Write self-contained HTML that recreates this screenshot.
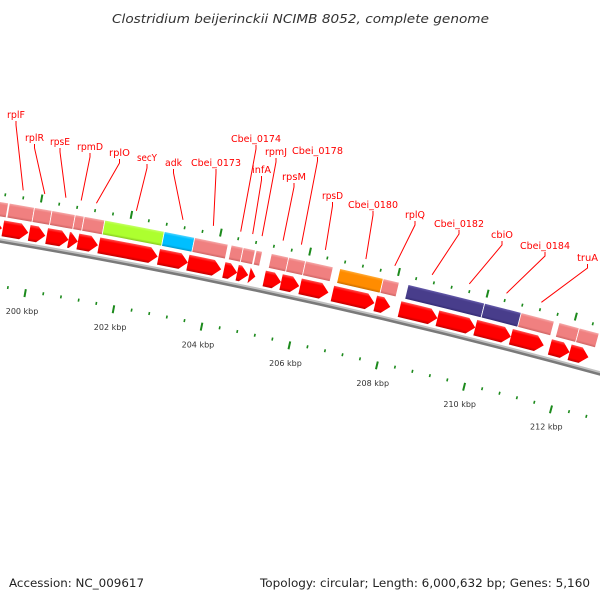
<!DOCTYPE html>
<html><head><meta charset="utf-8"><style>
html,body{margin:0;padding:0;background:#fff;}
svg{display:block;font-family:"DejaVu Sans","Liberation Sans",sans-serif;}
</style></head><body>
<svg id="map" width="600" height="600" viewBox="0 0 600 600" xmlns="http://www.w3.org/2000/svg">
<defs id="defs"></defs>
<rect width="600" height="600" fill="#fff"/>
<text x="112" y="23" textLength="377" lengthAdjust="spacingAndGlyphs" font-size="12.5" font-style="italic" fill="#333">Clostridium beijerinckii NCIMB 8052, complete genome</text>
<g id="ticks"></g><g id="backbone"></g><g id="features"></g><g id="labels"></g>
<text x="9" y="587" textLength="135" lengthAdjust="spacingAndGlyphs" font-size="11.5" fill="#222">Accession: NC_009617</text>
<text x="260" y="587" textLength="330" lengthAdjust="spacingAndGlyphs" font-size="11.5" fill="#222">Topology: circular; Length: 6,000,632 bp; Genes: 5,160</text>
</svg>
<script>
// ---- data (kbp) ----
const geneStarts = [198.75,199.27,199.86,200.25,200.74,200.95,201.42,202.76,203.42,204.23,204.53,204.80,205.14,205.52,205.95,206.68,207.65,208.20,209.06,209.92,210.73,211.62,212.07];
const geneEnds   = [199.25,199.84,200.22,200.74,200.95,201.40,202.74,203.42,204.17,204.53,204.78,204.94,205.52,205.93,206.59,207.63,207.99,209.06,209.92,210.73,211.48,212.07,212.50];
const boxStarts = [198.8,199.32,199.88,200.27,200.79,200.99,201.45,202.78,203.46,204.28,204.55,204.84,205.18,205.57,205.95,206.72,207.70,208.26,209.99,210.82,211.68,212.14];
const boxEnds   = [199.3,199.88,200.27,200.79,200.99,201.45,202.78,203.46,204.21,204.55,204.82,204.98,205.57,205.95,206.57,207.70,208.06,209.99,210.82,211.57,212.14,212.59];
const boxTypes  = ["pink","pink","pink","pink","pink","pink","green","blue","pink","pink","pink","pink","pink","pink","pink","orange","pink","purple","purple","pink","pink","pink"];
const labelNames = ["rplF","rplR","rpsE","rpmD","rplO","secY","adk","Cbei_0173","Cbei_0174","infA","rpmJ","rpsM","Cbei_0178","rpsD","Cbei_0180","rplQ","Cbei_0182","cbiO","Cbei_0184","truA"];
const labelKbp = [199.57,200.05,200.52,200.86,201.20,202.09,203.13,203.81,204.42,204.69,204.90,205.37,205.78,206.32,207.23,207.88,208.72,209.56,210.40,211.19];
const tickLabels = ["200 kbp","202 kbp","204 kbp","206 kbp","208 kbp","210 kbp","212 kbp"];
const tickLabelKbp = [200,202,204,206,208,210,212];
// label text layout (left x, baseline y, width)
const labelLayout = [[7,118,18],[25,141,19],[50,145,20],[77,150,26],[109,156,21],[137,161,20],[165,166,17],[191,166,50],[231,142,50],[252,173,19],[265,155,22],[282,180,24],[292,154,51],[322,199,21],[348,208,50],[405,218,20],[434,227,50],[491,238,22],[520,249,50],[577,261,21]];

const NS="http://www.w3.org/2000/svg";
const CX=-1014, CY=6241, R=6086;
function ang(k){return (-80.09+(k-200)*0.426)*Math.PI/180;}
function pt(k,r){const a=ang(k);return [CX+r*Math.cos(a),CY+r*Math.sin(a)];}
function f(p){return p[0].toFixed(2)+" "+p[1].toFixed(2);}
function mk(tag,attrs,parent){const e=document.createElementNS(NS,tag);for(const k in attrs)e.setAttribute(k,attrs[k]);parent.appendChild(e);return e;}
const defs=document.getElementById('defs');
const colors={red:["#ff5050","#ff0000","#c00000"],pink:["#f6b0b0","#f08080","#c86060"],green:["#c8ff70","#adff2f","#80c020"],blue:["#60d8ff","#00bfff","#0090c0"],orange:["#ffb040","#ff8c00","#c06800"],purple:["#6a60b0","#483d8b","#302870"]};
function grad(id,c,r1,r2){
  const g=mk('radialGradient',{id:id,gradientUnits:'userSpaceOnUse',cx:CX,cy:CY,r:R+r2,fx:CX,fy:CY},defs);
  const o=x=>((R+x)/(R+r2)).toFixed(6);
  mk('stop',{offset:o(r1),'stop-color':c[2]},g);
  mk('stop',{offset:o(r1+3),'stop-color':c[1]},g);
  mk('stop',{offset:o(r2-3),'stop-color':c[1]},g);
  mk('stop',{offset:o(r2),'stop-color':c[0]},g);
}
grad('g-red',colors.red,4,20);
for(const k of ["pink","green","blue","orange","purple"]) grad('g-'+k,colors[k],23,38);

// ticks
const tg=document.getElementById('ticks');
for(let i=0;i<=38;i++){
  const k=198.4+i*0.4, major=Math.abs((k/2)-Math.round(k/2))<0.01;
  for(const side of [1,-1]){
    const r1=R+side*44, r2=R+side*(major?52:47);
    const a=pt(k,r1), b=pt(k,r2);
    const l=mk('line',{x1:a[0],y1:a[1],x2:b[0],y2:b[1],stroke:'#1c8a1c','stroke-width':major?2:1.6},tg);
    
    
  }
}
tickLabels.forEach((t,i)=>{
  const p=pt(tickLabelKbp[i],R-66);
  const e=mk('text',{x:p[0],y:p[1]+3,'text-anchor':'middle','font-size':8,fill:'#333'},tg);
  e.textContent=t;
  
  
});
// backbone
const bb=document.getElementById('backbone');
function arc(r,k1,k2){const a=pt(k1,r),b=pt(k2,r);return "M"+f(a)+" A"+r+" "+r+" 0 0 1 "+f(b);}
const b1=mk('path',{d:arc(R+0.5,197,214),fill:'none',stroke:'#c0c0c0','stroke-width':2.5},bb);


const b2=mk('path',{d:arc(R-1.5,197,214),fill:'none',stroke:'#7a7a7a','stroke-width':2.5},bb);


// features
const fg=document.getElementById('features');
function band(k1,k2,r1,r2){return "M"+f(pt(k1,r2))+" A"+r2+" "+r2+" 0 0 1 "+f(pt(k2,r2))+" L"+f(pt(k2,r1))+" A"+r1+" "+r1+" 0 0 0 "+f(pt(k1,r1))+" Z";}
boxStarts.forEach((s,i)=>{
  const p=mk('path',{d:band(s,boxEnds[i],R+23,R+38),fill:'url(#g-'+boxTypes[i]+')',stroke:'#fff','stroke-width':0.8},fg);
  
  
});
const head=0.177;
geneStarts.forEach((s,i)=>{
  const e=geneEnds[i], r1=R+4, r2=R+20, rm=R+12;
  const kh=Math.max(s,e-head);
  let d="M"+f(pt(s,r2));
  if(kh>s) d+=" A"+r2+" "+r2+" 0 0 1 "+f(pt(kh,r2));
  d+=" L"+f(pt(e,rm))+" L"+f(pt(kh,r1));
  if(kh>s) d+=" A"+r1+" "+r1+" 0 0 0 "+f(pt(s,r1));
  d+=" Z";
  const p=mk('path',{d:d,fill:'url(#g-red)'},fg);
  
  
});
// labels
const lg=document.getElementById('labels');
labelNames.forEach((n,i)=>{
  const [lx,ly,w]=labelLayout[i];
  const sx=lx+w/2, sy=ly+3;
  const end=pt(labelKbp[i],R+53);
  const pl=mk('polyline',{points:sx+","+sy+" "+sx+","+(sy+4)+" "+end[0].toFixed(1)+","+end[1].toFixed(1),fill:'none',stroke:'#ff0000','stroke-width':1},lg);
  
  
  const t=mk('text',{x:lx,y:ly,'font-size':9.5,fill:'#ff0000',textLength:w,lengthAdjust:'spacingAndGlyphs'},lg);
  t.textContent=n;
  
  
});
</script>
</body></html>
